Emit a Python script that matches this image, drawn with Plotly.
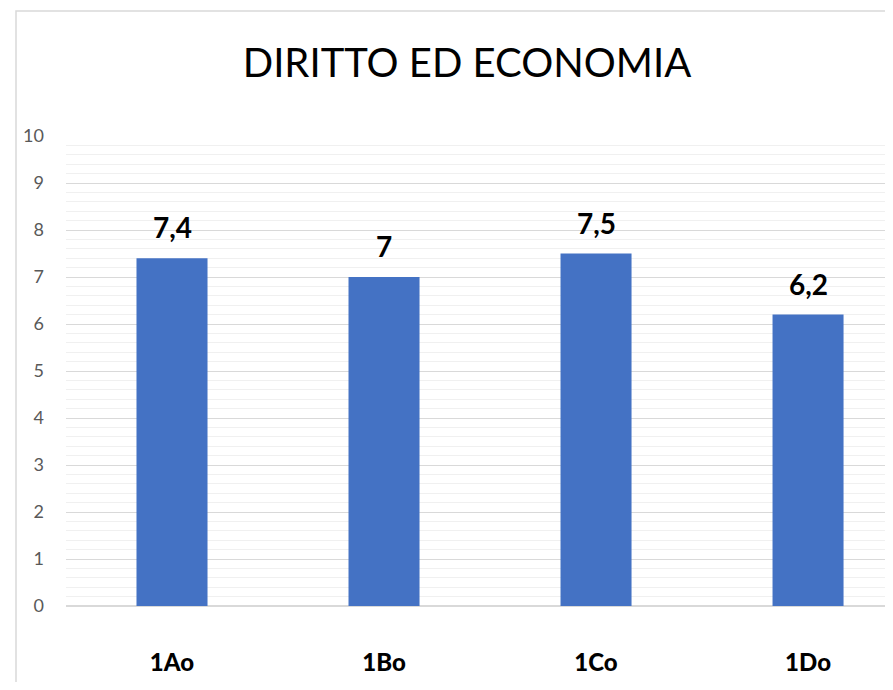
import plotly.graph_objects as go

# Voti medi per classe
classi = ["1Ao", "1Bo", "1Co", "1Do"]
voti = [7.4, 7, 7.5, 6.2]
etichette = ["7,4", "7", "7,5", "6,2"]

# la pagina ha 8px di margine sul body: figura più piccola e posizioni spostate di -8
fig = go.Figure(go.Bar(
    x=classi,
    y=voti,
    width=0.335,
    marker=dict(color="#4472c4", line=dict(width=0)),
    hoverinfo="skip",
))

# etichette dei valori sopra le barre
for c, v, t in zip(classi, voti, etichette):
    fig.add_annotation(x=c, y=v, text="<b>%s</b>" % t, showarrow=False,
                       yanchor="bottom", yshift=12,
                       font=dict(family="Lato", size=28, color="#000000"))

# bordo del grafico
fig.add_shape(type="rect", xref="paper", yref="paper",
              x0=-50 / 819, x1=1.3, y0=-0.3, y1=(606 - 11) / 470,
              line=dict(color="#d9d9d9", width=1.5), layer="below")

fig.update_layout(
    width=877, height=674,
    margin=dict(l=58, r=0, t=128, b=76),
    paper_bgcolor="white", plot_bgcolor="white",
    showlegend=False,
    title=dict(text="DIRITTO ED ECONOMIA", xref="container", x=459 / 877,
               xanchor="center", yref="container", y=1 - 55 / 674, yanchor="middle",
               font=dict(family="Lato", size=40, color="#000000", weight=400)),
    xaxis=dict(range=[-0.5, 3.363], showgrid=False, showline=False, zeroline=False,
               ticks="", ticklabelstandoff=40,
               tickfont=dict(family="Lato", size=24, color="#000000", weight=900)),
    yaxis=dict(range=[0, 10], dtick=1, showline=False,
               gridcolor="#d9d9d9", gridwidth=1.2,
               zeroline=True, zerolinecolor="#d9d9d9", zerolinewidth=2,
               minor=dict(dtick=0.2, showgrid=True, gridcolor="#f0f0f0", gridwidth=1),
               ticks="", ticklabelstandoff=21,
               tickfont=dict(family="Lato", size=18, color="#595959")),
)

fig.write_html("out.html")
